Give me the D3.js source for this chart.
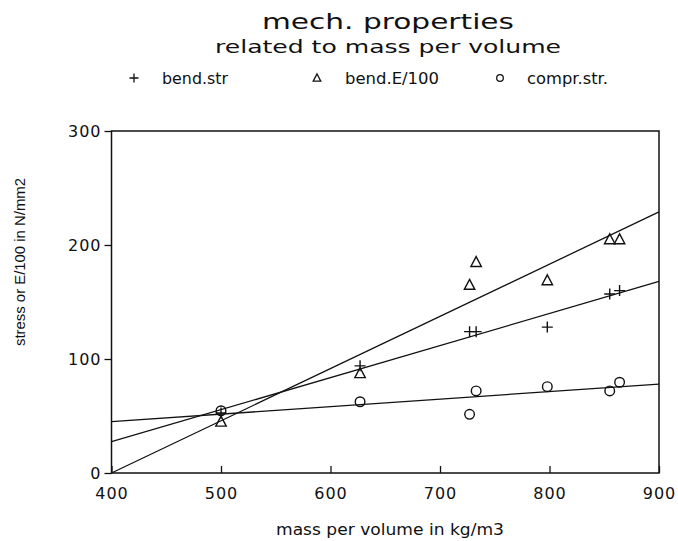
<!DOCTYPE html>
<html>
<head>
<meta charset="utf-8">
<script src="https://cdn.jsdelivr.net/npm/d3@7"></script>
<style>
  body { margin: 0; background: #fff; }
  text { font-family: "DejaVu Sans", Verdana, sans-serif; fill: #111; }
</style>
</head>
<body>
<div id="chart"></div>
<script>
// mass per volume (kg/m3) of the samples
const mass = [500, 627, 727, 733, 798, 855, 864]
// measured values, N/mm2
const bendStr = [52.6, 94, 124, 124, 128, 157, 160]
const bendE = [45, 87.5, 165, 185, 169, 205, 205]
const comprStr = [54.6, 62.5, 51.5, 72, 75.7, 72, 79.6]
// fitted lines, value at x = 400 and x = 900
const fitX = [400, 900]
const fitBendStr = [27.5, 168]
const fitBendE = [0, 229]
const fitComprStr = [45, 78]

const xTicks = [400, 500, 600, 700, 800, 900]
const yTicks = [0, 100, 200, 300]

var width = 678
var height = 541
var margin = { left: 111.5, right: 19, top: 131, bottom: 68 }

var svg = d3.select("#chart").append("svg")
  .attr("width", width)
  .attr("height", height)

var xScale = d3.scaleLinear()
  .domain([400, 900])
  .range([margin.left, width - margin.right])

var yScale = d3.scaleLinear()
  .domain([0, 300])
  .range([height - margin.bottom, margin.top])

// titles, stretched to the wide plotter lettering
function wideText(x, y, size, len, str) {
  return svg.append("text")
    .attr("x", x - len / 2).attr("y", y)
    .attr("textLength", len)
    .attr("lengthAdjust", "spacingAndGlyphs")
    .style("font-size", size + "px")
    .text(str)
}

wideText(388, 29, 22, 252, "mech. properties")
wideText(388, 53, 18, 346, "related to mass per volume")

// frame
svg.append("rect")
  .attr("x", xScale(400)).attr("y", yScale(300))
  .attr("width", xScale(900) - xScale(400))
  .attr("height", yScale(0) - yScale(300))
  .attr("fill", "none")
  .attr("stroke", "#111")
  .attr("stroke-width", 1.5)

var xAxis = d3.axisBottom(xScale)
  .tickValues(xTicks)
  .tickSizeInner(-7)
  .tickSizeOuter(0)
  .tickPadding(15)
  .tickFormat(d3.format("d"))

var yAxis = d3.axisLeft(yScale)
  .tickValues(yTicks)
  .tickSizeInner(7)
  .tickSizeOuter(0)
  .tickPadding(3)
  .tickFormat(d3.format("d"))

var xAxisG = svg.append("g")
  .attr("transform", "translate(0," + yScale(0) + ")")
  .call(xAxis)
var yAxisG = svg.append("g")
  .attr("transform", "translate(" + xScale(400) + ",0)")
  .call(yAxis)

;[xAxisG, yAxisG].forEach(g => {
  g.select(".domain").remove()
  g.selectAll("line").attr("stroke", "#111").attr("stroke-width", 1.3)
  g.selectAll("text")
    .style("font-size", "16px")
    .style("letter-spacing", "1px")
    .style("font-family", "\"DejaVu Sans\", Verdana, sans-serif")
    .attr("fill", "#111")
})

// axis titles
wideText(390, 535, 15, 228, "mass per volume in kg/m3")

svg.append("text")
  .attr("transform", "translate(25,262) rotate(-90)")
  .attr("x", -84)
  .attr("textLength", 168)
  .attr("lengthAdjust", "spacingAndGlyphs")
  .style("font-family", "\"Liberation Sans\", Arial, sans-serif")
  .style("font-size", "15.5px")
  .text("stress or E/100 in N/mm2")

// fit lines
var plot = svg.append("g")
var line = d3.line()
  .x((d, i) => xScale(fitX[i]))
  .y(d => yScale(d))

;[fitBendStr, fitBendE, fitComprStr].forEach(f => {
  plot.append("path")
    .attr("d", line(f))
    .attr("fill", "none")
    .attr("stroke", "#111")
    .attr("stroke-width", 1.3)
})

// marker shapes
function plusPath(s) {
  return "M" + (-s) + ",0H" + s + "M0," + (-s) + "V" + s
}
function triPath(s) {
  return "M0," + (-s) + "L" + (s * 0.95) + "," + (s * 0.8) + "L" + (-s * 0.95) + "," + (s * 0.8) + "Z"
}

plot.selectAll(".plus")
  .data(mass)
  .enter().append("path")
  .attr("class", "plus")
  .attr("transform", (d, i) => "translate(" + xScale(d) + "," + yScale(bendStr[i]) + ")")
  .attr("d", plusPath(5.5))
  .attr("fill", "none")
  .attr("stroke", "#111")
  .attr("stroke-width", 1.4)

plot.selectAll(".tri")
  .data(mass)
  .enter().append("path")
  .attr("class", "tri")
  .attr("transform", (d, i) => "translate(" + xScale(d) + "," + yScale(bendE[i]) + ")")
  .attr("d", triPath(5.5))
  .attr("fill", "none")
  .attr("stroke", "#111")
  .attr("stroke-width", 1.4)

plot.selectAll(".circ")
  .data(mass)
  .enter().append("circle")
  .attr("class", "circ")
  .attr("cx", d => xScale(d))
  .attr("cy", (d, i) => yScale(comprStr[i]))
  .attr("r", 4.8)
  .attr("fill", "none")
  .attr("stroke", "#111")
  .attr("stroke-width", 1.4)

// legend
var legend = [
  { label: "bend.str", mx: 134, tx: 162, len: 66, kind: "plus" },
  { label: "bend.E/100", mx: 317, tx: 345, len: 94, kind: "tri" },
  { label: "compr.str.", mx: 500, tx: 527, len: 81, kind: "circ" }
]
var key = svg.selectAll(".key")
  .data(legend)
  .enter().append("g")
  .attr("class", "key")

key.each(function(d) {
  var g = d3.select(this)
  if (d.kind === "circ") {
    g.append("circle").attr("cx", d.mx).attr("cy", 78).attr("r", 3.3)
      .attr("fill", "none").attr("stroke", "#111").attr("stroke-width", 1.3)
  }
  else {
    g.append("path")
      .attr("transform", "translate(" + d.mx + ",78)")
      .attr("d", d.kind === "plus" ? plusPath(4.5) : triPath(4))
      .attr("fill", "none").attr("stroke", "#111").attr("stroke-width", 1.3)
  }
  g.append("text")
    .attr("x", d.tx).attr("y", 84)
    .attr("textLength", d.len)
    .attr("lengthAdjust", "spacingAndGlyphs")
    .style("font-size", "15px")
    .text(d.label)
})
</script>
</body>
</html>
